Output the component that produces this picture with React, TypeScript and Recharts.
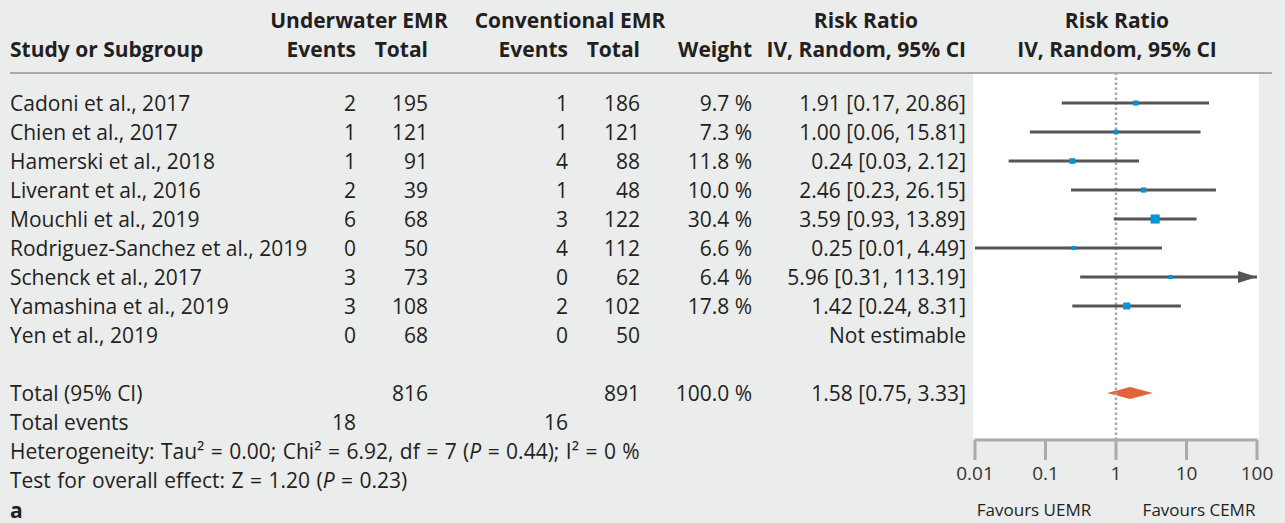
import React from "react";
import { ComposedChart, XAxis, YAxis, Scatter, ReferenceLine, ReferenceArea, ReferenceDot } from "recharts";

// forest plot data: underwater vs conventional EMR
const studies = [
  "Cadoni et al., 2017",
  "Chien et al., 2017",
  "Hamerski et al., 2018",
  "Liverant et al., 2016",
  "Mouchli et al., 2019",
  "Rodriguez-Sanchez et al., 2019",
  "Schenck et al., 2017",
  "Yamashina et al., 2019",
  "Yen et al., 2019",
];
const uemrEvents = [2, 1, 1, 2, 6, 0, 3, 3, 0];
const uemrTotal = [195, 121, 91, 39, 68, 50, 73, 108, 68];
const cemrEvents = [1, 1, 4, 1, 3, 4, 0, 2, 0];
const cemrTotal = [186, 121, 88, 48, 122, 112, 62, 102, 50];
const weights = [9.7, 7.3, 11.8, 10.0, 30.4, 6.6, 6.4, 17.8, null];
const riskRatio = [1.91, 1.0, 0.24, 2.46, 3.59, 0.25, 5.96, 1.42, null];
const ciLower = [0.17, 0.06, 0.03, 0.23, 0.93, 0.01, 0.31, 0.24, null];
const ciUpper = [20.86, 15.81, 2.12, 26.15, 13.89, 4.49, 113.19, 8.31, null];

const pooledRR = 1.58;
const pooledLower = 0.75;
const pooledUpper = 3.33;
const totalUemr = 816;
const totalCemr = 891;
const totalEventsUemr = 18;
const totalEventsCemr = 16;
const totalWeight = 100.0;

const axisTicks = [0.01, 0.1, 1, 10, 100];

const W = 1285;
const H = 523;
const FONT = "'Open Sans', 'Liberation Sans', Arial, sans-serif";
const TEXT = "#231f20";
const PLOT_TOP = 74;
const ROW_H = 29;
const TOTAL_ROW = 11;
const X_MAX = 100;

const rowY = (i: number) => PLOT_TOP + i * ROW_H;

const points = studies
  .map((s, k) => ({ x: riskRatio[k], y: k + 1, w: weights[k] }))
  .filter((p) => p.x != null);

type TxtProps = {
  x: number;
  y: number;
  align?: string;
  bold?: boolean;
  size?: number;
  lh?: number;
  wordSpacing?: number;
  children: React.ReactNode;
};
const Txt = ({ x, y, align = "left", bold, size = 21, lh = 30, wordSpacing, children }: TxtProps) => {
  const style: React.CSSProperties = {
    position: "absolute",
    top: y - lh / 2,
    lineHeight: `${lh}px`,
    fontSize: size,
    fontWeight: bold ? 700 : 400,
    whiteSpace: "nowrap",
    color: TEXT,
    wordSpacing,
  };
  if (align === "left") style.left = x;
  else if (align === "right") style.right = W - x;
  else {
    style.left = x - 200;
    style.width = 400;
    style.textAlign = "center";
  }
  return <div style={style}>{children}</div>;
};

const Square = (props: any) => {
  const { cx, cy, payload } = props;
  const s = 1.65 * Math.sqrt(payload.w);
  return <rect x={cx - s / 2} y={cy - s / 2} width={s} height={s} fill="#0096d6" />;
};

const Diamond = (props: any) => {
  const { x, y, width, height } = props;
  const mx = x + width / 2;
  const my = y + height / 2;
  return <polygon points={`${x},${my} ${mx},${y} ${x + width},${my} ${mx},${y + height}`} fill="#e0633a" />;
};

const Arrow = (props: any) => {
  const { cx, cy } = props;
  return <polygon points={`${cx},${cy} ${cx - 19},${cy - 6} ${cx - 19},${cy + 6}`} fill="#555" />;
};

const fmt2 = (v: number) => v.toFixed(2);

export default function App() {
  return (
    <div style={{ position: "absolute", left: 0, top: 0, width: W, height: H, background: "#ebecec", fontFamily: FONT, overflow: "hidden" }}>
      <div style={{ position: "absolute", left: 973, top: 74, width: 286, height: 364, background: "#fff" }} />
      <div style={{ position: "absolute", left: 10, top: 72, width: 1262, height: 2, background: "#a9a9a9" }} />

      {/* header */}
      <Txt x={359} y={20} align="center" bold>Underwater EMR</Txt>
      <Txt x={570} y={20} align="center" bold>Conventional EMR</Txt>
      <Txt x={866} y={20} align="center" bold>Risk Ratio</Txt>
      <Txt x={1117} y={20} align="center" bold>Risk Ratio</Txt>
      <Txt x={10} y={49} bold>Study or Subgroup</Txt>
      <Txt x={356} y={49} align="right" bold>Events</Txt>
      <Txt x={428} y={49} align="right" bold>Total</Txt>
      <Txt x={568} y={49} align="right" bold>Events</Txt>
      <Txt x={640} y={49} align="right" bold>Total</Txt>
      <Txt x={752} y={49} align="right" bold>Weight</Txt>
      <Txt x={966} y={49} align="right" bold>IV, Random, 95% CI</Txt>
      <Txt x={1117} y={49} align="center" bold>IV, Random, 95% CI</Txt>

      {/* study rows */}
      {studies.map((s, k) => {
        const y = rowY(k + 1);
        const rr = riskRatio[k];
        return (
          <React.Fragment key={s}>
            <Txt x={10} y={y}>{s}</Txt>
            <Txt x={356} y={y} align="right">{uemrEvents[k]}</Txt>
            <Txt x={428} y={y} align="right">{uemrTotal[k]}</Txt>
            <Txt x={568} y={y} align="right">{cemrEvents[k]}</Txt>
            <Txt x={640} y={y} align="right">{cemrTotal[k]}</Txt>
            {weights[k] != null && <Txt x={752} y={y} align="right">{(weights[k] as number).toFixed(1)} %</Txt>}
            <Txt x={966} y={y} align="right">
              {rr != null ? `${fmt2(rr)} [${fmt2(ciLower[k] as number)}, ${fmt2(ciUpper[k] as number)}]` : "Not estimable"}
            </Txt>
          </React.Fragment>
        );
      })}

      {/* totals */}
      <Txt x={10} y={rowY(TOTAL_ROW)}>Total (95% CI)</Txt>
      <Txt x={428} y={rowY(TOTAL_ROW)} align="right">{totalUemr}</Txt>
      <Txt x={640} y={rowY(TOTAL_ROW)} align="right">{totalCemr}</Txt>
      <Txt x={752} y={rowY(TOTAL_ROW)} align="right">{totalWeight.toFixed(1)} %</Txt>
      <Txt x={966} y={rowY(TOTAL_ROW)} align="right">{`${fmt2(pooledRR)} [${fmt2(pooledLower)}, ${fmt2(pooledUpper)}]`}</Txt>
      <Txt x={10} y={rowY(TOTAL_ROW + 1)}>Total events</Txt>
      <Txt x={356} y={rowY(TOTAL_ROW + 1)} align="right">{totalEventsUemr}</Txt>
      <Txt x={568} y={rowY(TOTAL_ROW + 1)} align="right">{totalEventsCemr}</Txt>
      <Txt x={10} y={rowY(TOTAL_ROW + 2)} wordSpacing={1}>
        Heterogeneity: Tau² = 0.00; Chi² = 6.92, df = 7 (<i>P</i> = 0.44); I² = 0 %
      </Txt>
      <Txt x={10} y={rowY(TOTAL_ROW + 3)} wordSpacing={1}>
        Test for overall effect: Z = 1.20 (<i>P</i> = 0.23)
      </Txt>
      <Txt x={10} y={510} bold lh={22}>a</Txt>

      <Txt x={1034} y={510} align="center" size={17} lh={22}>Favours UEMR</Txt>
      <Txt x={1199} y={510} align="center" size={17} lh={22}>Favours CEMR</Txt>

      <ComposedChart
        width={W}
        height={H}
        margin={{ top: PLOT_TOP, right: W - 1257, bottom: 23, left: 975 }}
        style={{ position: "absolute", left: 0, top: 0 }}
      >
        <XAxis
          type="number"
          dataKey="x"
          scale="log"
          domain={[0.01, X_MAX]}
          ticks={axisTicks}
          allowDataOverflow
          height={60}
          tickSize={20}
          tickMargin={7}
          tickFormatter={(v: number) => String(v)}
          axisLine={{ stroke: "#ababab", strokeWidth: 3 }}
          tickLine={{ stroke: "#ababab", strokeWidth: 3 }}
          tick={{ fill: "#333", fontSize: 19, fontFamily: FONT }}
        />
        <YAxis type="number" dataKey="y" domain={[0, 12.62]} reversed hide width={0} />
        <ReferenceLine x={1} stroke="#a8a8a8" strokeWidth={2.5} strokeDasharray="2.5 2.5" />
        {points.map((p, idx) => {
          const k = p.y - 1;
          return (
            <ReferenceLine
              key={idx}
              segment={[
                { x: ciLower[k] as number, y: p.y },
                { x: Math.min(ciUpper[k] as number, X_MAX), y: p.y },
              ]}
              stroke="#555"
              strokeWidth={3}
            />
          );
        })}
        {points
          .filter((p) => (ciUpper[p.y - 1] as number) > X_MAX)
          .map((p, idx) => (
            <ReferenceDot key={"a" + idx} x={X_MAX} y={p.y} shape={<Arrow />} />
          ))}
        <Scatter data={points} shape={<Square />} isAnimationActive={false} />
        <ReferenceArea
          x1={pooledLower}
          x2={pooledUpper}
          y1={TOTAL_ROW - 0.21}
          y2={TOTAL_ROW + 0.21}
          shape={<Diamond />}
        />
      </ComposedChart>
    </div>
  );
}
